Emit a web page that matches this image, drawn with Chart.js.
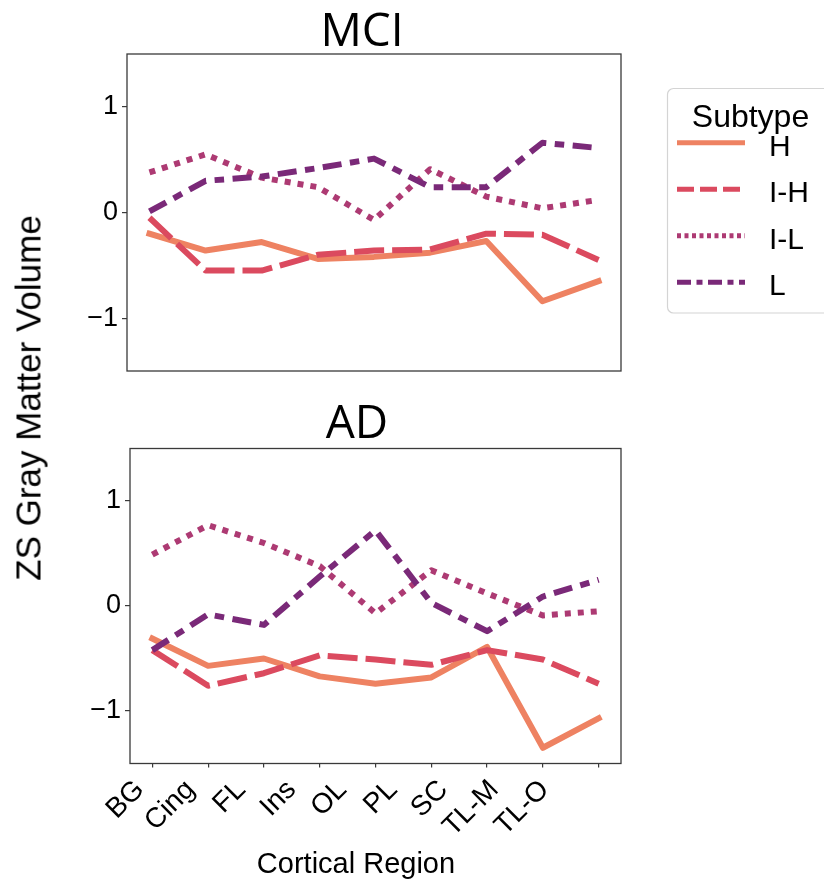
<!DOCTYPE html>
<html>
<head>
<meta charset="utf-8">
<title>ZS Gray Matter Volume by subtype</title>
<script src="https://cdn.jsdelivr.net/npm/chart.js@4.4.1/dist/chart.umd.min.js"></script>
<style>
  body { margin: 0; background: #fff; }
  #figura { position: relative; width: 824px; height: 883px; overflow: hidden; font-family: 'Liberation Sans', Arial, sans-serif; }
  canvas { position: absolute; left: 0; }
  #graficoMCI { top: 0; }
  #graficoAD { top: 400px; }
  .rotulo { position: absolute; white-space: nowrap; line-height: 1; color: #000; transform: translate(-50%, -50%); }
  #rotuloY { left: 27.5px; top: 398px; font-size: 35px; transform: translate(-50%, -50%) rotate(-90deg); }
  #rotuloX { left: 356px; top: 862.5px; font-size: 29px; }
  #legenda { position: absolute; left: 0; top: 0; }
</style>
</head>
<body>
<div id="figura">
  <canvas id="graficoMCI" width="824" height="400"></canvas>
  <canvas id="graficoAD" width="824" height="483"></canvas>
  <div class="rotulo" id="rotuloY">ZS Gray Matter Volume</div>
  <div class="rotulo" id="rotuloX">Cortical Region</div>
  <svg id="legenda" width="824" height="883"></svg>
</div>
<script>
/* Dados */
var regions = ['BG', 'Cing', 'FL', 'Ins', 'OL', 'PL', 'SC', 'TL-M', 'TL-O'];
var subtypes = ['H', 'I-H', 'I-L', 'L'];
var yTicks = [-1, 0, 1];

var mciH  = [-0.20, -0.36, -0.28, -0.44, -0.42, -0.38, -0.27, -0.84, -0.65];
var mciIH = [-0.05, -0.55, -0.55, -0.40, -0.36, -0.35, -0.20, -0.21, -0.45];
var mciIL = [0.38, 0.55, 0.33, 0.24, -0.07, 0.41, 0.15, 0.04, 0.12];
var mciL  = [0.01, 0.30, 0.34, 0.42, 0.51, 0.24, 0.24, 0.66, 0.61];

var adH  = [-0.31, -0.57, -0.50, -0.67, -0.74, -0.68, -0.39, -1.35, -1.07];
var adIH = [-0.42, -0.76, -0.64, -0.47, -0.51, -0.56, -0.42, -0.51, -0.74];
var adIL = [0.49, 0.77, 0.60, 0.38, -0.07, 0.34, 0.12, -0.09, -0.05];
var adL  = [-0.42, -0.08, -0.18, 0.28, 0.72, 0.03, -0.24, 0.09, 0.25];

/* Estilos das linhas */
var lineColors = ['#ee8262', '#db4a5f', '#ad3a73', '#7a2978'];
var lineDashes = [[], [30, 8], [6, 7], [19, 8.5, 9.5, 8.5]];
var legendDashes = [[], [17, 6], [4, 3.5], [14, 5.5, 6, 5.5]];

var Figura = Figura || {};

/* moldura completa em volta da area do grafico */
Figura.moldura = {
	id: 'moldura',
	afterDatasetsDraw: function(chart) {
		var a = chart.chartArea;
		var ctx = chart.ctx;
		ctx.save();
		ctx.strokeStyle = '#3a3a3a';
		ctx.lineWidth = 1.3;
		ctx.strokeRect(a.left, a.top, a.right - a.left, a.bottom - a.top);
		ctx.restore();
	}
};

Figura.Painel = (function() {

	function Painel(canvasId, titulo, series, layout) {
		this.ctx = document.getElementById(canvasId).getContext('2d');
		this.titulo = titulo;
		this.series = series;
		this.layout = layout;
	}

	function ticksInteiros(s) {
		s.ticks = regions.map(function(r, i) { return {value: i}; });
	}

	Painel.prototype.iniciar = function() {
		var layout = this.layout;
		var datasets = subtypes.map(function(nome, i) {
			return {
				label: nome,
				data: this.series[i].map(function(v, j) { return {x: j, y: v}; }),
				borderColor: lineColors[i],
				borderWidth: 6,
				borderDash: lineDashes[i],
				borderCapStyle: i === 0 ? 'square' : 'butt',
				borderJoinStyle: 'round',
				pointRadius: 0,
				tension: 0,
				fill: false,
				order: subtypes.length - i
			};
		}, this);

		this.grafico = new Chart(this.ctx, {
			type: 'line',
			data: { datasets: datasets },
			options: {
				responsive: false,
				animation: false,
				events: [],
				layout: { padding: layout.padding },
				plugins: {
					legend: { display: false },
					tooltip: { enabled: false },
					title: {
						display: true,
						text: this.titulo,
						color: '#000',
						font: { family: "'Open Sans'", size: 46, weight: 'normal', lineHeight: 0.9 },
						padding: layout.titlePadding
					}
				},
				scales: {
					x: {
						type: 'linear',
						min: -0.4,
						max: 8.4,
						display: layout.showX,
						weight: 0,
						afterBuildTicks: ticksInteiros,
						afterFit: function(s) { if (layout.showX) s.height = 0; },
						border: { display: false },
						grid: { drawOnChartArea: false, tickLength: 4, color: '#3a3a3a', lineWidth: 1.2 },
						ticks: { display: false }
					},
					/* os nomes das regioes na figura ficam um pouco mais juntos que os ticks */
					rotulos: {
						type: 'linear',
						axis: 'x',
						position: 'bottom',
						min: -0.198,
						max: 9.506,
						display: layout.showX,
						weight: 1,
						afterBuildTicks: ticksInteiros,
						afterFit: function(s) { if (layout.showX) s.height = 119.5; },
						border: { display: false },
						grid: { display: false },
						ticks: {
							color: '#000',
							font: { family: "'Liberation Sans', Arial", size: 28 },
							minRotation: 45,
							maxRotation: 45,
							autoSkip: false,
							padding: 2,
							callback: function(v) { return regions[v]; }
						}
					},
					y: {
						min: -1.5,
						max: 1.5,
						afterBuildTicks: function(s) {
							s.ticks = yTicks.map(function(v) { return {value: v}; });
						},
						afterFit: function(s) { s.width = layout.yWidth; },
						border: { display: false },
						grid: { drawOnChartArea: false, tickLength: 5, color: '#3a3a3a', lineWidth: 1.2 },
						ticks: {
							color: '#000',
							font: { family: "'Liberation Sans', Arial", size: 27 },
							padding: 4,
							callback: function(v) { return v < 0 ? '\u2212' + Math.abs(v) : String(v); }
						}
					},
					/* eixo vazio a direita, so para reservar espaco */
					espaco: {
						axis: 'y',
						position: 'right',
						display: true,
						afterFit: function(s) { s.width = layout.rightSpace; },
						border: { display: false },
						grid: { display: false },
						ticks: { display: false }
					}
				}
			},
			plugins: [Figura.moldura]
		});
	};

	return Painel;

}());

/* Legenda "Subtype" ao lado do painel superior */
Figura.legenda = function() {
	var ns = 'http://www.w3.org/2000/svg';
	var svg = document.getElementById('legenda');

	function el(tag, attrs, texto) {
		var e = document.createElementNS(ns, tag);
		for (var k in attrs) e.setAttribute(k, attrs[k]);
		if (texto) e.textContent = texto;
		svg.appendChild(e);
		return e;
	}

	el('rect', { x: 667.5, y: 88.5, width: 170, height: 224.5, rx: 6, fill: '#fff', stroke: '#d4d4d4', 'stroke-width': 1.2 });
	el('text', { x: 750.5, y: 127, 'text-anchor': 'middle', 'font-family': 'Liberation Sans, Arial', 'font-size': 32, fill: '#000' }, 'Subtype');

	subtypes.forEach(function(nome, i) {
		var y = 142.7 + i * 46.5;
		el('line', {
			x1: 677, x2: 745, y1: y, y2: y,
			stroke: lineColors[i], 'stroke-width': 5,
			'stroke-dasharray': legendDashes[i].length ? legendDashes[i].join(' ') : 'none'
		});
		el('text', { x: 769, y: y + 13, 'font-family': 'Liberation Sans, Arial', 'font-size': 30, fill: '#000' }, nome);
	});
};

window.addEventListener('load', function() {

	var painelMCI = new Figura.Painel('graficoMCI', 'MCI', [mciH, mciIH, mciIL, mciL], {
		padding: { left: 80, right: 180, top: 0, bottom: 29 },
		titlePadding: { top: 11.9, bottom: 0.7 },
		yWidth: 47,
		rightSpace: 23,
		showX: false
	});
	painelMCI.iniciar();

	var painelAD = new Figura.Painel('graficoAD', 'AD', [adH, adIH, adIL, adL], {
		padding: { left: 80, right: 190, top: 0, bottom: 0 },
		titlePadding: { top: 4.3, bottom: 2.8 },
		yWidth: 50,
		rightSpace: 13,
		showX: true
	});
	painelAD.iniciar();

	Figura.legenda();

});
</script>
</body>
</html>
